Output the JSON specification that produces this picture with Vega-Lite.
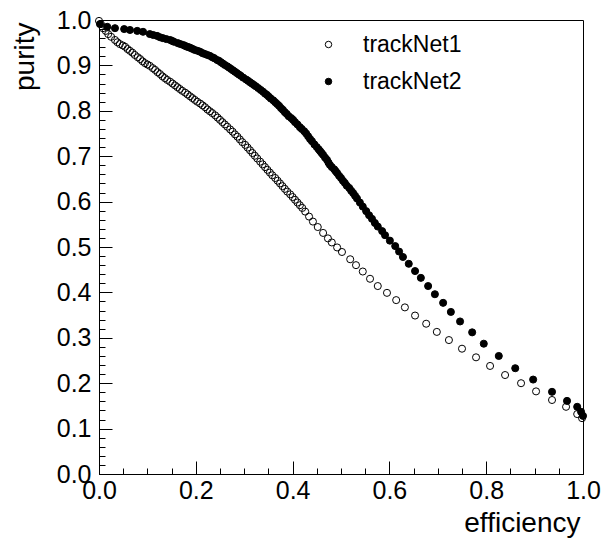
{
  "$schema": "https://vega.github.io/schema/vega-lite/v6.json",
  "width": 484,
  "height": 454,
  "autosize": "none",
  "padding": {"left": 99, "top": 20, "right": 19, "bottom": 65},
  "background": "white",
  "config": {
    "view": {"stroke": "black", "strokeWidth": 1},
    "font": "Liberation Sans",
    "axis": {"grid": false}
  },
  "data": {
    "values": [
      {"series": "trackNet2", "efficiency": 0.002, "purity": 0.991},
      {"series": "trackNet2", "efficiency": 0.017, "purity": 0.985},
      {"series": "trackNet2", "efficiency": 0.033, "purity": 0.982},
      {"series": "trackNet2", "efficiency": 0.052, "purity": 0.980},
      {"series": "trackNet2", "efficiency": 0.064, "purity": 0.978},
      {"series": "trackNet2", "efficiency": 0.079, "purity": 0.976},
      {"series": "trackNet2", "efficiency": 0.091, "purity": 0.974},
      {"series": "trackNet2", "efficiency": 0.105, "purity": 0.969},
      {"series": "trackNet2", "efficiency": 0.112, "purity": 0.967},
      {"series": "trackNet2", "efficiency": 0.120, "purity": 0.965},
      {"series": "trackNet2", "efficiency": 0.126, "purity": 0.962},
      {"series": "trackNet2", "efficiency": 0.132, "purity": 0.960},
      {"series": "trackNet2", "efficiency": 0.139, "purity": 0.958},
      {"series": "trackNet2", "efficiency": 0.147, "purity": 0.956},
      {"series": "trackNet2", "efficiency": 0.151, "purity": 0.954},
      {"series": "trackNet2", "efficiency": 0.155, "purity": 0.952},
      {"series": "trackNet2", "efficiency": 0.163, "purity": 0.949},
      {"series": "trackNet2", "efficiency": 0.168, "purity": 0.947},
      {"series": "trackNet2", "efficiency": 0.174, "purity": 0.945},
      {"series": "trackNet2", "efficiency": 0.178, "purity": 0.943},
      {"series": "trackNet2", "efficiency": 0.182, "purity": 0.941},
      {"series": "trackNet2", "efficiency": 0.186, "purity": 0.940},
      {"series": "trackNet2", "efficiency": 0.190, "purity": 0.938},
      {"series": "trackNet2", "efficiency": 0.194, "purity": 0.936},
      {"series": "trackNet2", "efficiency": 0.198, "purity": 0.934},
      {"series": "trackNet2", "efficiency": 0.204, "purity": 0.932},
      {"series": "trackNet2", "efficiency": 0.209, "purity": 0.930},
      {"series": "trackNet2", "efficiency": 0.214, "purity": 0.927},
      {"series": "trackNet2", "efficiency": 0.219, "purity": 0.925},
      {"series": "trackNet2", "efficiency": 0.224, "purity": 0.923},
      {"series": "trackNet2", "efficiency": 0.229, "purity": 0.921},
      {"series": "trackNet2", "efficiency": 0.234, "purity": 0.918},
      {"series": "trackNet2", "efficiency": 0.238, "purity": 0.916},
      {"series": "trackNet2", "efficiency": 0.244, "purity": 0.912},
      {"series": "trackNet2", "efficiency": 0.248, "purity": 0.910},
      {"series": "trackNet2", "efficiency": 0.252, "purity": 0.907},
      {"series": "trackNet2", "efficiency": 0.256, "purity": 0.904},
      {"series": "trackNet2", "efficiency": 0.260, "purity": 0.901},
      {"series": "trackNet2", "efficiency": 0.265, "purity": 0.898},
      {"series": "trackNet2", "efficiency": 0.269, "purity": 0.895},
      {"series": "trackNet2", "efficiency": 0.273, "purity": 0.892},
      {"series": "trackNet2", "efficiency": 0.277, "purity": 0.889},
      {"series": "trackNet2", "efficiency": 0.281, "purity": 0.886},
      {"series": "trackNet2", "efficiency": 0.285, "purity": 0.883},
      {"series": "trackNet2", "efficiency": 0.289, "purity": 0.880},
      {"series": "trackNet2", "efficiency": 0.293, "purity": 0.877},
      {"series": "trackNet2", "efficiency": 0.298, "purity": 0.873},
      {"series": "trackNet2", "efficiency": 0.304, "purity": 0.869},
      {"series": "trackNet2", "efficiency": 0.308, "purity": 0.866},
      {"series": "trackNet2", "efficiency": 0.312, "purity": 0.863},
      {"series": "trackNet2", "efficiency": 0.316, "purity": 0.860},
      {"series": "trackNet2", "efficiency": 0.320, "purity": 0.857},
      {"series": "trackNet2", "efficiency": 0.324, "purity": 0.854},
      {"series": "trackNet2", "efficiency": 0.329, "purity": 0.850},
      {"series": "trackNet2", "efficiency": 0.334, "purity": 0.846},
      {"series": "trackNet2", "efficiency": 0.339, "purity": 0.842},
      {"series": "trackNet2", "efficiency": 0.343, "purity": 0.838},
      {"series": "trackNet2", "efficiency": 0.347, "purity": 0.835},
      {"series": "trackNet2", "efficiency": 0.351, "purity": 0.831},
      {"series": "trackNet2", "efficiency": 0.355, "purity": 0.827},
      {"series": "trackNet2", "efficiency": 0.360, "purity": 0.823},
      {"series": "trackNet2", "efficiency": 0.364, "purity": 0.819},
      {"series": "trackNet2", "efficiency": 0.368, "purity": 0.815},
      {"series": "trackNet2", "efficiency": 0.372, "purity": 0.811},
      {"series": "trackNet2", "efficiency": 0.376, "purity": 0.806},
      {"series": "trackNet2", "efficiency": 0.380, "purity": 0.802},
      {"series": "trackNet2", "efficiency": 0.384, "purity": 0.797},
      {"series": "trackNet2", "efficiency": 0.388, "purity": 0.793},
      {"series": "trackNet2", "efficiency": 0.392, "purity": 0.788},
      {"series": "trackNet2", "efficiency": 0.397, "purity": 0.784},
      {"series": "trackNet2", "efficiency": 0.401, "purity": 0.780},
      {"series": "trackNet2", "efficiency": 0.405, "purity": 0.775},
      {"series": "trackNet2", "efficiency": 0.410, "purity": 0.770},
      {"series": "trackNet2", "efficiency": 0.415, "purity": 0.764},
      {"series": "trackNet2", "efficiency": 0.419, "purity": 0.760},
      {"series": "trackNet2", "efficiency": 0.424, "purity": 0.755},
      {"series": "trackNet2", "efficiency": 0.428, "purity": 0.750},
      {"series": "trackNet2", "efficiency": 0.432, "purity": 0.744},
      {"series": "trackNet2", "efficiency": 0.436, "purity": 0.738},
      {"series": "trackNet2", "efficiency": 0.440, "purity": 0.733},
      {"series": "trackNet2", "efficiency": 0.445, "purity": 0.726},
      {"series": "trackNet2", "efficiency": 0.450, "purity": 0.720},
      {"series": "trackNet2", "efficiency": 0.454, "purity": 0.715},
      {"series": "trackNet2", "efficiency": 0.457, "purity": 0.711},
      {"series": "trackNet2", "efficiency": 0.460, "purity": 0.707},
      {"series": "trackNet2", "efficiency": 0.463, "purity": 0.703},
      {"series": "trackNet2", "efficiency": 0.467, "purity": 0.697},
      {"series": "trackNet2", "efficiency": 0.471, "purity": 0.692},
      {"series": "trackNet2", "efficiency": 0.474, "purity": 0.686},
      {"series": "trackNet2", "efficiency": 0.477, "purity": 0.681},
      {"series": "trackNet2", "efficiency": 0.481, "purity": 0.676},
      {"series": "trackNet2", "efficiency": 0.486, "purity": 0.671},
      {"series": "trackNet2", "efficiency": 0.489, "purity": 0.667},
      {"series": "trackNet2", "efficiency": 0.492, "purity": 0.663},
      {"series": "trackNet2", "efficiency": 0.496, "purity": 0.657},
      {"series": "trackNet2", "efficiency": 0.500, "purity": 0.652},
      {"series": "trackNet2", "efficiency": 0.504, "purity": 0.646},
      {"series": "trackNet2", "efficiency": 0.508, "purity": 0.641},
      {"series": "trackNet2", "efficiency": 0.512, "purity": 0.635},
      {"series": "trackNet2", "efficiency": 0.517, "purity": 0.630},
      {"series": "trackNet2", "efficiency": 0.521, "purity": 0.624},
      {"series": "trackNet2", "efficiency": 0.525, "purity": 0.619},
      {"series": "trackNet2", "efficiency": 0.529, "purity": 0.613},
      {"series": "trackNet2", "efficiency": 0.533, "purity": 0.607},
      {"series": "trackNet2", "efficiency": 0.539, "purity": 0.598},
      {"series": "trackNet2", "efficiency": 0.545, "purity": 0.589},
      {"series": "trackNet2", "efficiency": 0.552, "purity": 0.579},
      {"series": "trackNet2", "efficiency": 0.558, "purity": 0.570},
      {"series": "trackNet2", "efficiency": 0.564, "purity": 0.562},
      {"series": "trackNet2", "efficiency": 0.570, "purity": 0.553},
      {"series": "trackNet2", "efficiency": 0.576, "purity": 0.545},
      {"series": "trackNet2", "efficiency": 0.585, "purity": 0.535},
      {"series": "trackNet2", "efficiency": 0.591, "purity": 0.526},
      {"series": "trackNet2", "efficiency": 0.601, "purity": 0.514},
      {"series": "trackNet2", "efficiency": 0.612, "purity": 0.502},
      {"series": "trackNet2", "efficiency": 0.620, "purity": 0.490},
      {"series": "trackNet2", "efficiency": 0.628, "purity": 0.478},
      {"series": "trackNet2", "efficiency": 0.640, "purity": 0.463},
      {"series": "trackNet2", "efficiency": 0.653, "purity": 0.447},
      {"series": "trackNet2", "efficiency": 0.665, "purity": 0.432},
      {"series": "trackNet2", "efficiency": 0.680, "purity": 0.414},
      {"series": "trackNet2", "efficiency": 0.694, "purity": 0.396},
      {"series": "trackNet2", "efficiency": 0.711, "purity": 0.377},
      {"series": "trackNet2", "efficiency": 0.727, "purity": 0.357},
      {"series": "trackNet2", "efficiency": 0.746, "purity": 0.336},
      {"series": "trackNet2", "efficiency": 0.771, "purity": 0.312},
      {"series": "trackNet2", "efficiency": 0.795, "purity": 0.287},
      {"series": "trackNet2", "efficiency": 0.826, "purity": 0.260},
      {"series": "trackNet2", "efficiency": 0.860, "purity": 0.233},
      {"series": "trackNet2", "efficiency": 0.897, "purity": 0.208},
      {"series": "trackNet2", "efficiency": 0.936, "purity": 0.181},
      {"series": "trackNet2", "efficiency": 0.967, "purity": 0.161},
      {"series": "trackNet2", "efficiency": 0.988, "purity": 0.148},
      {"series": "trackNet2", "efficiency": 0.996, "purity": 0.137},
      {"series": "trackNet2", "efficiency": 1.000, "purity": 0.128},
      {"series": "trackNet1", "efficiency": 0.000, "purity": 0.998},
      {"series": "trackNet1", "efficiency": 0.004, "purity": 0.991},
      {"series": "trackNet1", "efficiency": 0.008, "purity": 0.982},
      {"series": "trackNet1", "efficiency": 0.014, "purity": 0.976},
      {"series": "trackNet1", "efficiency": 0.019, "purity": 0.969},
      {"series": "trackNet1", "efficiency": 0.025, "purity": 0.963},
      {"series": "trackNet1", "efficiency": 0.033, "purity": 0.956},
      {"series": "trackNet1", "efficiency": 0.038, "purity": 0.951},
      {"series": "trackNet1", "efficiency": 0.043, "purity": 0.947},
      {"series": "trackNet1", "efficiency": 0.049, "purity": 0.944},
      {"series": "trackNet1", "efficiency": 0.054, "purity": 0.941},
      {"series": "trackNet1", "efficiency": 0.059, "purity": 0.936},
      {"series": "trackNet1", "efficiency": 0.064, "purity": 0.932},
      {"series": "trackNet1", "efficiency": 0.069, "purity": 0.928},
      {"series": "trackNet1", "efficiency": 0.074, "purity": 0.923},
      {"series": "trackNet1", "efficiency": 0.080, "purity": 0.918},
      {"series": "trackNet1", "efficiency": 0.085, "purity": 0.914},
      {"series": "trackNet1", "efficiency": 0.090, "purity": 0.909},
      {"series": "trackNet1", "efficiency": 0.095, "purity": 0.905},
      {"series": "trackNet1", "efficiency": 0.100, "purity": 0.902},
      {"series": "trackNet1", "efficiency": 0.105, "purity": 0.899},
      {"series": "trackNet1", "efficiency": 0.111, "purity": 0.894},
      {"series": "trackNet1", "efficiency": 0.116, "purity": 0.890},
      {"series": "trackNet1", "efficiency": 0.121, "purity": 0.885},
      {"series": "trackNet1", "efficiency": 0.126, "purity": 0.881},
      {"series": "trackNet1", "efficiency": 0.131, "purity": 0.876},
      {"series": "trackNet1", "efficiency": 0.136, "purity": 0.872},
      {"series": "trackNet1", "efficiency": 0.141, "purity": 0.868},
      {"series": "trackNet1", "efficiency": 0.147, "purity": 0.864},
      {"series": "trackNet1", "efficiency": 0.152, "purity": 0.860},
      {"series": "trackNet1", "efficiency": 0.157, "purity": 0.856},
      {"series": "trackNet1", "efficiency": 0.162, "purity": 0.852},
      {"series": "trackNet1", "efficiency": 0.167, "purity": 0.848},
      {"series": "trackNet1", "efficiency": 0.172, "purity": 0.844},
      {"series": "trackNet1", "efficiency": 0.178, "purity": 0.840},
      {"series": "trackNet1", "efficiency": 0.183, "purity": 0.836},
      {"series": "trackNet1", "efficiency": 0.188, "purity": 0.832},
      {"series": "trackNet1", "efficiency": 0.193, "purity": 0.828},
      {"series": "trackNet1", "efficiency": 0.198, "purity": 0.824},
      {"series": "trackNet1", "efficiency": 0.203, "purity": 0.820},
      {"series": "trackNet1", "efficiency": 0.209, "purity": 0.816},
      {"series": "trackNet1", "efficiency": 0.214, "purity": 0.812},
      {"series": "trackNet1", "efficiency": 0.219, "purity": 0.808},
      {"series": "trackNet1", "efficiency": 0.224, "purity": 0.803},
      {"series": "trackNet1", "efficiency": 0.229, "purity": 0.799},
      {"series": "trackNet1", "efficiency": 0.234, "purity": 0.795},
      {"series": "trackNet1", "efficiency": 0.240, "purity": 0.790},
      {"series": "trackNet1", "efficiency": 0.245, "purity": 0.785},
      {"series": "trackNet1", "efficiency": 0.250, "purity": 0.780},
      {"series": "trackNet1", "efficiency": 0.255, "purity": 0.775},
      {"series": "trackNet1", "efficiency": 0.260, "purity": 0.770},
      {"series": "trackNet1", "efficiency": 0.265, "purity": 0.765},
      {"series": "trackNet1", "efficiency": 0.271, "purity": 0.759},
      {"series": "trackNet1", "efficiency": 0.276, "purity": 0.754},
      {"series": "trackNet1", "efficiency": 0.281, "purity": 0.748},
      {"series": "trackNet1", "efficiency": 0.286, "purity": 0.743},
      {"series": "trackNet1", "efficiency": 0.291, "purity": 0.737},
      {"series": "trackNet1", "efficiency": 0.296, "purity": 0.731},
      {"series": "trackNet1", "efficiency": 0.302, "purity": 0.725},
      {"series": "trackNet1", "efficiency": 0.307, "purity": 0.719},
      {"series": "trackNet1", "efficiency": 0.312, "purity": 0.713},
      {"series": "trackNet1", "efficiency": 0.317, "purity": 0.707},
      {"series": "trackNet1", "efficiency": 0.322, "purity": 0.701},
      {"series": "trackNet1", "efficiency": 0.327, "purity": 0.695},
      {"series": "trackNet1", "efficiency": 0.333, "purity": 0.688},
      {"series": "trackNet1", "efficiency": 0.338, "purity": 0.682},
      {"series": "trackNet1", "efficiency": 0.343, "purity": 0.676},
      {"series": "trackNet1", "efficiency": 0.348, "purity": 0.670},
      {"series": "trackNet1", "efficiency": 0.353, "purity": 0.664},
      {"series": "trackNet1", "efficiency": 0.358, "purity": 0.658},
      {"series": "trackNet1", "efficiency": 0.364, "purity": 0.652},
      {"series": "trackNet1", "efficiency": 0.369, "purity": 0.646},
      {"series": "trackNet1", "efficiency": 0.374, "purity": 0.640},
      {"series": "trackNet1", "efficiency": 0.379, "purity": 0.634},
      {"series": "trackNet1", "efficiency": 0.384, "purity": 0.628},
      {"series": "trackNet1", "efficiency": 0.389, "purity": 0.622},
      {"series": "trackNet1", "efficiency": 0.395, "purity": 0.616},
      {"series": "trackNet1", "efficiency": 0.400, "purity": 0.610},
      {"series": "trackNet1", "efficiency": 0.405, "purity": 0.604},
      {"series": "trackNet1", "efficiency": 0.410, "purity": 0.598},
      {"series": "trackNet1", "efficiency": 0.415, "purity": 0.592},
      {"series": "trackNet1", "efficiency": 0.420, "purity": 0.586},
      {"series": "trackNet1", "efficiency": 0.426, "purity": 0.578},
      {"series": "trackNet1", "efficiency": 0.434, "purity": 0.567},
      {"series": "trackNet1", "efficiency": 0.442, "purity": 0.556},
      {"series": "trackNet1", "efficiency": 0.452, "purity": 0.544},
      {"series": "trackNet1", "efficiency": 0.463, "purity": 0.531},
      {"series": "trackNet1", "efficiency": 0.473, "purity": 0.519},
      {"series": "trackNet1", "efficiency": 0.481, "purity": 0.510},
      {"series": "trackNet1", "efficiency": 0.492, "purity": 0.499},
      {"series": "trackNet1", "efficiency": 0.502, "purity": 0.489},
      {"series": "trackNet1", "efficiency": 0.519, "purity": 0.473},
      {"series": "trackNet1", "efficiency": 0.531, "purity": 0.460},
      {"series": "trackNet1", "efficiency": 0.545, "purity": 0.446},
      {"series": "trackNet1", "efficiency": 0.560, "purity": 0.430},
      {"series": "trackNet1", "efficiency": 0.576, "purity": 0.414},
      {"series": "trackNet1", "efficiency": 0.595, "purity": 0.399},
      {"series": "trackNet1", "efficiency": 0.614, "purity": 0.383},
      {"series": "trackNet1", "efficiency": 0.632, "purity": 0.367},
      {"series": "trackNet1", "efficiency": 0.653, "purity": 0.349},
      {"series": "trackNet1", "efficiency": 0.676, "purity": 0.331},
      {"series": "trackNet1", "efficiency": 0.698, "purity": 0.313},
      {"series": "trackNet1", "efficiency": 0.723, "purity": 0.295},
      {"series": "trackNet1", "efficiency": 0.750, "purity": 0.276},
      {"series": "trackNet1", "efficiency": 0.779, "purity": 0.257},
      {"series": "trackNet1", "efficiency": 0.808, "purity": 0.238},
      {"series": "trackNet1", "efficiency": 0.839, "purity": 0.218},
      {"series": "trackNet1", "efficiency": 0.872, "purity": 0.200},
      {"series": "trackNet1", "efficiency": 0.903, "purity": 0.182},
      {"series": "trackNet1", "efficiency": 0.936, "purity": 0.163},
      {"series": "trackNet1", "efficiency": 0.965, "purity": 0.148},
      {"series": "trackNet1", "efficiency": 0.988, "purity": 0.132},
      {"series": "trackNet1", "efficiency": 0.998, "purity": 0.123}
    ]
  },
  "layer": [
    {
      "mark": {"type": "point", "opacity": 0, "size": 1},
      "encoding": {
        "x": {
          "field": "efficiency", "type": "quantitative",
          "scale": {"domain": [0, 1], "nice": false, "zero": false},
          "axis": {
            "orient": "bottom",
            "values": [0.05, 0.1, 0.15, 0.25, 0.3, 0.35, 0.45, 0.5, 0.55, 0.65, 0.7, 0.75, 0.85, 0.9, 0.95],
            "labels": false, "domain": false, "title": null,
            "tickSize": -6, "tickColor": "black", "tickWidth": 1
          }
        },
        "y": {
          "field": "purity", "type": "quantitative",
          "scale": {"domain": [0, 1], "nice": false, "zero": false},
          "axis": {
            "orient": "left",
            "values": [0.02, 0.04, 0.06, 0.08, 0.12, 0.14, 0.16, 0.18, 0.22, 0.24, 0.26, 0.28, 0.32, 0.34, 0.36, 0.38, 0.42, 0.44, 0.46, 0.48, 0.52, 0.54, 0.56, 0.58, 0.62, 0.64, 0.66, 0.68, 0.72, 0.74, 0.76, 0.78, 0.82, 0.84, 0.86, 0.88, 0.92, 0.94, 0.96, 0.98],
            "labels": false, "domain": false, "title": null,
            "tickSize": -6, "tickColor": "black", "tickWidth": 1
          }
        }
      }
    },
    {
      "mark": {"type": "point", "filled": true, "stroke": "black", "strokeWidth": 1, "size": 50, "opacity": 1},
      "encoding": {
        "x": {
          "field": "efficiency", "type": "quantitative",
          "scale": {"domain": [0, 1], "nice": false, "zero": false},
          "axis": {
            "orient": "bottom",
            "values": [0, 0.2, 0.4, 0.6, 0.8, 1],
            "format": ".1f",
            "tickSize": -13, "tickColor": "black", "tickWidth": 1,
            "domainColor": "black", "domainWidth": 1,
            "labelFont": "Liberation Sans", "labelFontSize": 25, "labelColor": "black",
            "labelPadding": 17, "labelFlush": false, "labelOverlap": false, "labelBound": false,
            "title": "efficiency",
            "titleFont": "Liberation Sans", "titleFontSize": 28, "titleFontWeight": "normal", "titleColor": "black",
            "titleAnchor": "end", "titleAlign": "right", "titleBaseline": "alphabetic",
            "titleX": 481, "titleY": 57
          }
        },
        "y": {
          "field": "purity", "type": "quantitative",
          "scale": {"domain": [0, 1], "nice": false, "zero": false},
          "axis": {
            "orient": "left",
            "values": [0, 0.1, 0.2, 0.3, 0.4, 0.5, 0.6, 0.7, 0.8, 0.9, 1],
            "format": ".1f",
            "tickSize": -13, "tickColor": "black", "tickWidth": 1,
            "domainColor": "black", "domainWidth": 1,
            "labelFont": "Liberation Sans", "labelFontSize": 25, "labelColor": "black",
            "labelPadding": 21, "labelFlush": false, "labelOverlap": false, "labelBound": false,
            "title": "purity",
            "titleFont": "Liberation Sans", "titleFontSize": 28, "titleFontWeight": "normal", "titleColor": "black",
            "titleAnchor": "end", "titleAlign": "right", "titleBaseline": "alphabetic", "titleAngle": -90,
            "titleX": -66, "titleY": 2
          }
        },
        "fill": {
          "field": "series", "type": "nominal",
          "scale": {"domain": ["trackNet1", "trackNet2"], "range": ["transparent", "black"]},
          "legend": {
            "orient": "none", "legendX": 218, "legendY": 13,
            "title": null, "padding": 0,
            "labelFont": "Liberation Sans", "labelFontSize": 23, "labelColor": "black",
            "labelOffset": 23, "rowPadding": 13,
            "symbolType": "circle", "symbolSize": 42,
            "symbolStrokeColor": "black", "symbolStrokeWidth": 1
          }
        }
      }
    }
  ],
  "resolve": {"axis": {"x": "independent", "y": "independent"}}
}
